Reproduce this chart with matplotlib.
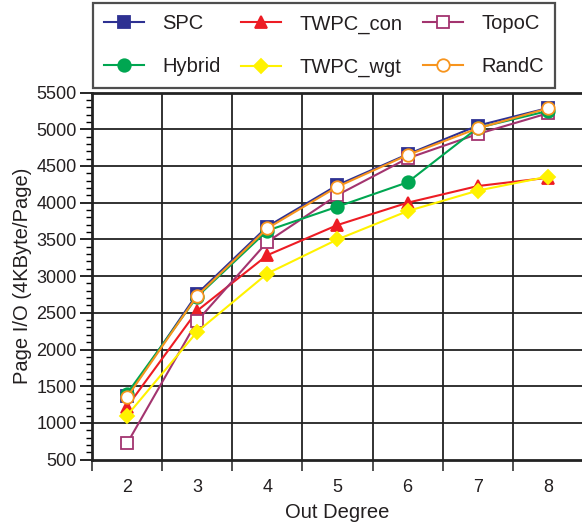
import matplotlib
matplotlib.use("Agg")
import matplotlib.pyplot as plt
from matplotlib.ticker import MultipleLocator, FixedLocator

plt.rcParams['font.family'] = ['Liberation Sans', 'DejaVu Sans']

out_degree = [2, 3, 4, 5, 6, 7, 8]
spc = [1360, 2760, 3675, 4240, 4660, 5050, 5290]
twpc_con = [1220, 2529, 3285, 3696, 4000, 4227, 4340]
topoc = [720, 2390, 3467, 4105, 4605, 4936, 5218]
hybrid = [1400, 2720, 3620, 3946, 4278, 5020, 5250]
twpc_wgt = [1100, 2243, 3035, 3500, 3886, 4165, 4355]
randc = [1350, 2733, 3651, 4218, 4650, 5013, 5286]

y_ticks = [500, 1000, 1500, 2000, 2500, 3000, 3500, 4000, 4500, 5000, 5500]

txt = '#231f20'
fig = plt.figure(figsize=(5.82, 5.23), dpi=100)
ax = fig.add_axes([92/582, 1 - 459.6/523, 491/582, (459.6 - 92.6)/523])

ms = 9
series = [
    ('SPC', spc, '#2e3192', 's', '#2e3192'),
    ('TWPC_con', twpc_con, '#ed1c24', '^', '#ed1c24'),
    ('TopoC', topoc, '#a3346f', 's', 'white'),
    ('Hybrid', hybrid, '#00a651', 'o', '#00a651'),
    ('TWPC_wgt', twpc_wgt, '#fff200', 'D', '#fff200'),
    ('RandC', randc, '#f7941d', 'o', 'white'),
]
handles = {}
for name, vals, col, mk, fc in series:
    size = ms - 1.5 if mk == 'D' else ms
    h, = ax.plot(out_degree, vals, color=col, marker=mk, markersize=size,
                 markerfacecolor=fc, markeredgecolor=col, markeredgewidth=1.3,
                 linewidth=1.5, label=name, zorder=3)
    handles[name] = h

ax.set_xlim(1.5, 8.5)
ax.set_ylim(500, 5500)
ax.set_xticks(out_degree)
ax.set_xticklabels([str(v) for v in out_degree])
ax.xaxis.set_minor_locator(FixedLocator([1.5, 2.5, 3.5, 4.5, 5.5, 6.5, 7.5, 8.5]))
ax.tick_params(axis='x', which='major', length=0, pad=14, labelsize=13, labelcolor=txt)
ax.tick_params(axis='x', which='minor', length=8, width=1.2, direction='out', color='#333333')
ax.set_yticks(y_ticks)
ax.yaxis.set_minor_locator(MultipleLocator(100))
ax.tick_params(axis='y', which='major', length=9, width=1.2, direction='out', labelsize=13, labelcolor=txt, pad=2)
ax.tick_params(axis='y', which='minor', length=4, width=1.0, direction='out')
ax.grid(False)
for xv in [2.5, 3.5, 4.5, 5.5, 6.5, 7.5]:
    ax.axvline(xv, color='#222222', linewidth=1.3, zorder=1)
for yv in y_ticks[1:-1]:
    ax.axhline(yv, color='#222222', linewidth=1.3, zorder=1)
for s in ['left', 'bottom', 'top']:
    ax.spines[s].set_linewidth(2.0)
    ax.spines[s].set_color('#222222')
ax.spines['right'].set_visible(False)

ax.set_xlabel('Out Degree', fontsize=14.5, color=txt, labelpad=5)
ax.set_ylabel('Page I/O (4KByte/Page)', fontsize=14.5, color=txt, labelpad=3)

order = ['SPC', 'Hybrid', 'TWPC_con', 'TWPC_wgt', 'TopoC', 'RandC']
leg = fig.legend([handles[n] for n in order], order, ncol=3,
                 loc='lower left', bbox_to_anchor=(93/582, 1 - 88/523, 462/582, 86/523),
                 mode='expand', borderaxespad=0, fontsize=14.5, frameon=True, fancybox=False,
                 borderpad=0.55, labelspacing=1.2, handlelength=2.0, columnspacing=1.0,
                 handletextpad=0.9)
leg.get_frame().set_edgecolor('#222222')
leg.get_frame().set_linewidth(1.6)
for t in leg.get_texts():
    t.set_color(txt)

fig.savefig('out.png', dpi=100)
